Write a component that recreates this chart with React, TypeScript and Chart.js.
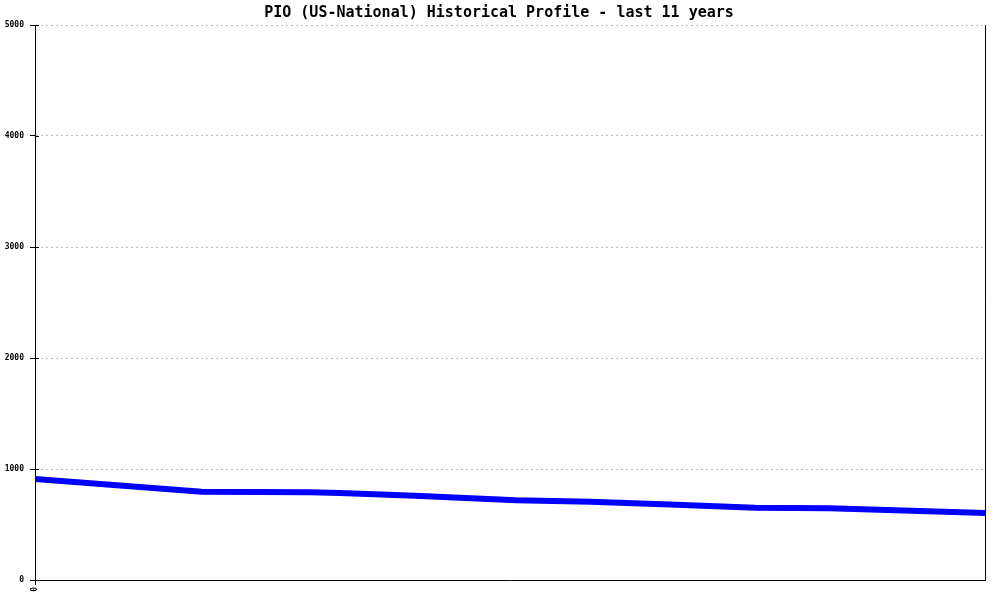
import React, { useEffect, useRef } from "react";
import { Chart, registerables } from "chart.js";

Chart.register(...registerables);

const titleText = "PIO (US-National) Historical Profile - last 11 years";
const yearOffsets = [0, 1.93, 3.18, 3.53, 4.4, 5.57, 6.43, 7.35, 8.34, 9.2, 11];
const values = [911, 795, 790, 784, 758, 719, 706, 680, 651, 646, 604];
const yTicks = [0, 1000, 2000, 3000, 4000, 5000];
const xTickLabels = ["0"];

const framePlugin = {
  id: "frame",
  afterDraw(chart: any) {
    const { ctx, chartArea } = chart;
    const y = chart.scales.y;
    ctx.save();
    ctx.strokeStyle = "#000";
    ctx.lineWidth = 1;
    ctx.beginPath();
    ctx.moveTo(chartArea.right + 0.5, chartArea.top);
    ctx.lineTo(chartArea.right + 0.5, chartArea.bottom);
    ctx.stroke();
    yTicks.forEach((v) => {
      const py = Math.round(y.getPixelForValue(v)) + 0.5;
      ctx.beginPath();
      ctx.moveTo(chartArea.left, py);
      ctx.lineTo(chartArea.left + 4, py);
      ctx.stroke();
    });
    ctx.fillStyle = "#000";
    ctx.font = "bold 15px 'DejaVu Sans Mono', monospace";
    ctx.textAlign = "center";
    ctx.textBaseline = "middle";
    ctx.fillText(titleText, 499, 13);
    ctx.restore();
  },
};

export default function App() {
  const ref = useRef<HTMLCanvasElement | null>(null);
  useEffect(() => {
    if (!ref.current) return;
    const chart = new Chart(ref.current, {
      type: "line",
      data: {
        datasets: [
          {
            data: yearOffsets.map((x, i) => ({ x, y: values[i] })),
            borderColor: "#0000ff",
            backgroundColor: "#0000ff",
            borderWidth: 6,
            pointRadius: 0,
            tension: 0,
          },
        ],
      },
      options: {
        animation: false,
        responsive: false,
        maintainAspectRatio: false,
        layout: { padding: { top: 25, right: 15, left: 0, bottom: 0 } },
        plugins: {
          legend: { display: false },
          title: { display: false },
          tooltip: { enabled: false },
        },
        scales: {
          x: {
            type: "linear",
            min: 0,
            max: 11,
            afterBuildTicks: (scale: any) => {
              scale.ticks = xTickLabels.map((_, i) => ({ value: i }));
            },
            afterFit: (scale: any) => {
              scale.height = 20;
            },
            ticks: {
              autoSkip: false,
              maxRotation: 90,
              minRotation: 90,
              padding: 2,
              color: "#000",
              font: { family: "'DejaVu Sans Mono', monospace", size: 8, weight: "bold" },
              callback: (v: any) => xTickLabels[Number(v)] ?? "",
            },
            grid: {
              drawOnChartArea: false,
              tickLength: 5,
              tickColor: "#000",
              color: "#000",
            },
            border: { display: true, color: "#000", width: 1 },
          },
          y: {
            min: 0,
            max: 5000,
            afterBuildTicks: (scale: any) => {
              scale.ticks = yTicks.map((v) => ({ value: v }));
            },
            afterFit: (scale: any) => {
              scale.width = 35;
            },
            ticks: {
              padding: 6,
              color: "#000",
              font: { family: "'DejaVu Sans Mono', monospace", size: 8, weight: "bold" },
              callback: (v: any) => String(v),
            },
            grid: {
              color: "#bdbdbd",
              tickLength: 5,
              tickColor: "#000",
            },
            border: { display: true, color: "#000", width: 1, dash: [2, 3] },
          },
        },
      },
      plugins: [framePlugin],
    });
    return () => chart.destroy();
  }, []);
  return (
    <div style={{ position: "fixed", left: 0, top: 0, width: 1000, height: 600, background: "#fff" }}>
      <canvas ref={ref} width={1000} height={600} />
    </div>
  );
}
